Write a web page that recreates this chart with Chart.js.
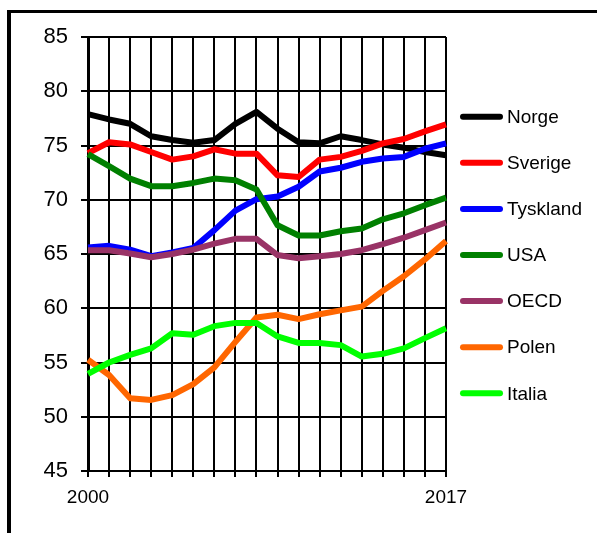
<!DOCTYPE html>
<html>
<head>
<meta charset="utf-8">
<script src="https://cdn.jsdelivr.net/npm/chart.js@4/dist/chart.umd.min.js"></script>
<style>
  html, body { margin: 0; padding: 0; background: #fff; overflow: hidden; }
  #wrap { position: relative; width: 597px; height: 533px; }
  #frame { position: absolute; left: 7px; top: 10px; width: 620px; height: 600px;
           border-top: 3px solid #000; border-left: 4px solid #000; }
  canvas { position: absolute; left: 0; top: 0; }
</style>
</head>
<body>
<div id="wrap">
  <div id="frame"></div>
  <canvas id="c" width="597" height="533"></canvas>
</div>
<script>
const years = ['2000','2001','2002','2003','2004','2005','2006','2007','2008','2009','2010','2011','2012','2013','2014','2015','2016','2017'];
const shownYearLabels = ['2000', '2017'];
const seriesNames = ['Norge', 'Sverige', 'Tyskland', 'USA', 'OECD', 'Polen', 'Italia'];
const norge    = [77.9, 77.4, 77.0, 75.85, 75.5, 75.25, 75.5, 77.0, 78.1, 76.55, 75.3, 75.2, 75.85, 75.5, 75.1, 74.8, 74.4, 74.1];
const sverige  = [74.3, 75.3, 75.1, 74.4, 73.7, 74.0, 74.65, 74.25, 74.25, 72.25, 72.1, 73.7, 73.95, 74.5, 75.2, 75.6, 76.3, 76.95];
const tyskland = [65.6, 65.75, 65.4, 64.8, 65.15, 65.55, 67.2, 69.0, 70.05, 70.3, 71.2, 72.6, 72.95, 73.5, 73.8, 73.95, 74.7, 75.2];
const usa      = [74.2, 73.1, 71.95, 71.25, 71.25, 71.55, 71.95, 71.8, 70.95, 67.65, 66.7, 66.7, 67.1, 67.35, 68.2, 68.75, 69.5, 70.2];
const oecd     = [65.35, 65.35, 65.05, 64.7, 65.0, 65.4, 65.95, 66.4, 66.4, 64.9, 64.6, 64.8, 65.0, 65.35, 65.9, 66.5, 67.2, 67.9];
const polen    = [55.25, 53.85, 51.7, 51.55, 52.0, 53.0, 54.55, 56.9, 59.15, 59.4, 59.0, 59.45, 59.8, 60.15, 61.6, 62.95, 64.5, 66.2];
const italia   = [53.95, 55.0, 55.7, 56.3, 57.7, 57.55, 58.35, 58.65, 58.65, 57.4, 56.8, 56.8, 56.6, 55.55, 55.8, 56.3, 57.25, 58.15];
const yMin = 45, yMax = 85, yStep = 5;

const allValues = [norge, sverige, tyskland, usa, oecd, polen, italia];
const colors = ['#000000', '#FF0000', '#0000FF', '#008000', '#993366', '#FF6600', '#00FF00'];
const FONT = '"Liberation Sans", Arial, sans-serif';

const datasets = seriesNames.map((name, i) => ({
  label: name,
  data: allValues[i],
  borderColor: colors[i],
  backgroundColor: colors[i],
  borderWidth: 6,
  pointRadius: 0,
  tension: 0,
  fill: false,
  order: seriesNames.length - i,
  borderJoinStyle: 'round'
}));

const legendPlugin = {
  id: 'sideLegend',
  afterDraw(chart) {
    const ctx = chart.ctx;
    ctx.save();
    chart.data.datasets.forEach((ds, i) => {
      const y = 116.7 + i * 46.1;
      ctx.strokeStyle = ds.borderColor;
      ctx.lineWidth = 6;
      ctx.lineCap = 'round';
      ctx.beginPath();
      ctx.moveTo(463, y);
      ctx.lineTo(500, y);
      ctx.stroke();
      ctx.fillStyle = '#000';
      ctx.font = '19px ' + FONT;
      ctx.textBaseline = 'middle';
      ctx.textAlign = 'left';
      ctx.fillText(ds.label, 507, y + 1);
    });
    ctx.restore();
  }
};

new Chart(document.getElementById('c'), {
  type: 'line',
  data: { labels: years, datasets },
  options: {
    responsive: false,
    animation: false,
    events: [],
    layout: { padding: { left: 0, top: 37, right: 151, bottom: 0 } },
    plugins: { legend: { display: false }, tooltip: { enabled: false } },
    scales: {
      x: {
        type: 'category',
        offset: false,
        grid: { color: '#000', lineWidth: 2, drawTicks: true, tickLength: 6, tickColor: '#000' },
        border: { color: '#000', width: 2 },
        ticks: {
          autoSkip: false,
          maxRotation: 0,
          color: '#000',
          font: { family: FONT, size: 19 },
          padding: 9,
          callback(v, idx) { const l = years[idx]; return shownYearLabels.includes(l) ? l : ''; }
        },
        afterFit(scale) { scale.height = 62; }
      },
      y: {
        min: yMin, max: yMax,
        grid: { color: '#000', lineWidth: 2, drawTicks: true, tickLength: 7, tickColor: '#000' },
        border: { color: '#000', width: 3 },
        ticks: {
          stepSize: yStep,
          color: '#000',
          font: { family: FONT, size: 22 },
          padding: 13
        },
        afterFit(scale) { scale.width = 88; }
      }
    }
  },
  plugins: [legendPlugin]
});
</script>
</body>
</html>
